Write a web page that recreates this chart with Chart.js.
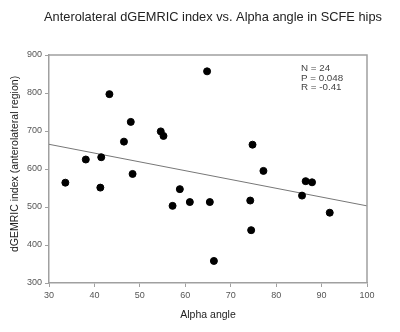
<!DOCTYPE html>
<html>
<head>
<meta charset="UTF-8">
<script src="https://cdn.jsdelivr.net/npm/chart.js"></script>
<style>
  body { margin: 0; background: #fff; }
  canvas { display: block; }
</style>
</head>
<body>
<canvas id="grafico" width="400" height="332"></canvas>
<script>
// valores
const alphaAngle = [33.6, 38.1, 41.3, 41.5, 43.3, 46.5, 48.0, 48.4, 54.6, 55.2, 57.2, 58.8,
                    61.0, 64.8, 65.4, 66.3, 74.3, 74.5, 74.8, 77.2, 85.7, 86.5, 87.9, 91.8];
const dgemric    = [564, 625, 551, 631, 797, 672, 724, 587, 699, 687, 503, 547,
                    513, 857, 513, 358, 517, 439, 664, 595, 530, 568, 565, 485];
const linhaX = [30, 100];
const linhaY = [665, 503];
const ticksX = [30, 40, 50, 60, 70, 80, 90, 100];
const ticksY = [300, 400, 500, 600, 700, 800, 900];
const titulo = 'Anterolateral dGEMRIC index vs. Alpha angle in SCFE hips';
const tituloX = 'Alpha angle';
const tituloY = 'dGEMRIC index (anterolateral region)';
const estatisticas = ['N = 24', 'P = 0.048', 'R = -0.41'];

const fonte = 'Liberation Sans, Arial, sans-serif';
const cinza = '#a0a0a0';

const pontos = alphaAngle.map((x, i) => ({ x: x, y: dgemric[i] }));
const reta = linhaX.map((x, i) => ({ x: x, y: linhaY[i] }));

// moldura, títulos e texto das estatísticas
const extras = {
  id: 'extras',
  afterDraw(chart) {
    const ctx = chart.ctx;
    const a = chart.chartArea;
    ctx.save();
    ctx.strokeStyle = cinza;
    ctx.lineWidth = 1.5;
    ctx.beginPath();
    ctx.moveTo(a.left, a.top);
    ctx.lineTo(a.right, a.top);
    ctx.lineTo(a.right, a.bottom);
    ctx.stroke();

    ctx.fillStyle = '#222';
    ctx.font = '12.8px ' + fonte;
    ctx.textAlign = 'center';
    ctx.textBaseline = 'middle';
    ctx.fillText(titulo, 213, 17);

    ctx.font = '10.5px ' + fonte;
    ctx.fillText(tituloX, 208, 315);

    ctx.save();
    ctx.translate(15, 164);
    ctx.rotate(-Math.PI / 2);
    ctx.fillText(tituloY, 0, 0);
    ctx.restore();

    ctx.fillStyle = '#444';
    ctx.font = '9.8px ' + fonte;
    ctx.textAlign = 'left';
    for (let i = 0; i < estatisticas.length; i++) {
      ctx.fillText(estatisticas[i], 301, 68 + i * 9.8);
    }
    ctx.restore();
  }
};

new Chart(document.getElementById('grafico'), {
  type: 'scatter',
  data: {
    datasets: [
      {
        label: 'dGEMRIC',
        data: pontos,
        backgroundColor: '#000',
        borderColor: '#000',
        pointRadius: 3.5,
        pointHoverRadius: 3.5
      },
      {
        type: 'line',
        label: 'regressão',
        data: reta,
        borderColor: '#777',
        borderWidth: 1,
        pointRadius: 0,
        fill: false
      }
    ]
  },
  options: {
    responsive: false,
    animation: false,
    layout: { padding: { top: 55, right: 33, left: 0, bottom: 0 } },
    plugins: {
      legend: { display: false },
      title: { display: false },
      tooltip: { enabled: false }
    },
    scales: {
      x: {
        type: 'linear',
        min: 30,
        max: 100,
        afterBuildTicks(axis) { axis.ticks = ticksX.map(v => ({ value: v })); },
        afterFit(axis) { axis.height = 49; },
        border: { color: cinza, width: 1.5 },
        grid: { drawOnChartArea: false, drawTicks: true, tickLength: 4, color: cinza },
        ticks: { color: '#555', font: { family: fonte, size: 9 }, padding: 3 }
      },
      y: {
        min: 300,
        max: 900,
        afterBuildTicks(axis) { axis.ticks = ticksY.map(v => ({ value: v })); },
        afterFit(axis) { axis.width = 49; },
        border: { color: cinza, width: 1.5 },
        grid: { drawOnChartArea: false, drawTicks: true, tickLength: 4, color: cinza },
        ticks: { color: '#555', font: { family: fonte, size: 9 }, padding: 3 }
      }
    }
  },
  plugins: [extras]
});
</script>
</body>
</html>
